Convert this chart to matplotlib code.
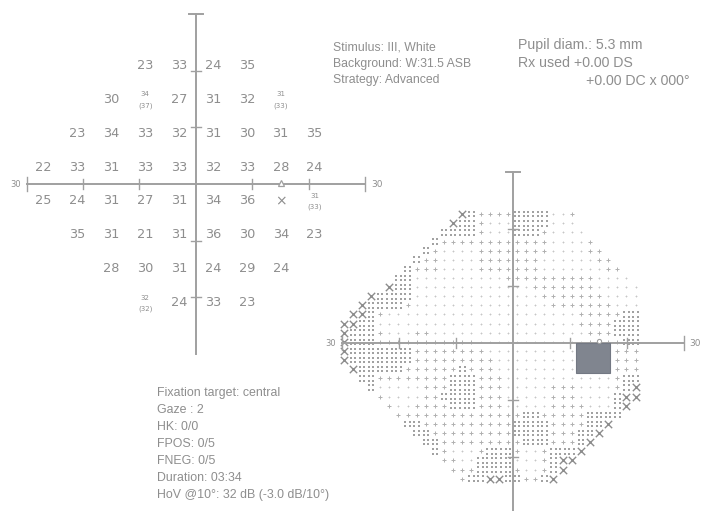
import numpy as np
import matplotlib
matplotlib.use("Agg")
import matplotlib.pyplot as plt
from matplotlib.path import Path
from matplotlib.patches import Rectangle

W, H = 703, 511
DPI = 100

# ---------------- data ----------------
col_x = [-27, -21, -15, -9, -3, 3, 9, 15, 21]
row_y = [21, 15, 9, 3, -3, -9, -15, -21]
row_p21 = [None, None, None, 23, 33, 24, 35, None, None]
row_p15 = [None, None, 30, 34, 27, 31, 32, 31, None]
row_p9 = [None, 23, 34, 33, 32, 31, 30, 31, 35]
row_p3 = [22, 33, 31, 33, 33, 32, 33, 28, 24]
row_m3 = [25, 24, 31, 27, 31, 34, 36, None, 31]
row_m9 = [None, 35, 31, 21, 31, 36, 30, 34, 23]
row_m15 = [None, None, 28, 30, 31, 24, 29, 24, None]
row_m21 = [None, None, None, 32, 24, 33, 23, None, None]
thresholds = [row_p21, row_p15, row_p9, row_p3, row_m3, row_m9, row_m15, row_m21]

# retested points: (x, y, second value)
retest_x = [-9, 15, 21, -9]
retest_y = [15, 15, -3, -21]
retest_v = [37, 33, 33, 32]

blind_spot = (15, -3)

info_left = ["Stimulus: III, White", "Background: W:31.5 ASB", "Strategy: Advanced"]
info_right = ["Pupil diam.: 5.3 mm", "Rx used +0.00 DS", "+0.00 DC x 000°"]
info_bottom = ["Fixation target: central", "Gaze : 2", "HK: 0/0", "FPOS: 0/5",
               "FNEG: 0/5", "Duration: 03:34", "HoV @10°: 32 dB (-3.0 dB/10°)"]

# greyscale field outline (degrees)
field_outline = [(-30, 3.5), (-8, 24), (9, 24), (23, 9), (23, -8), (7, -24),
                 (-9, -24), (-30, -3)]

TXT = "#8e8e8e"
AX = "#a0a0a0"

fig = plt.figure(figsize=(W / DPI, H / DPI), dpi=DPI)
fig.patch.set_facecolor("white")


def make_axes(cx, cy, s, lim=33):
    left = (cx - lim * s) / W
    bottom = 1 - (cy + lim * s) / H
    ax = fig.add_axes([left, bottom, 2 * lim * s / W, 2 * lim * s / H])
    ax.set_xlim(-lim, lim)
    ax.set_ylim(-lim, lim)
    ax.axis("off")
    return ax


def draw_cross(ax, bottom_len=30, lw=1.4):
    ax.plot([-30, 30], [0, 0], color=AX, lw=lw, zorder=2, clip_on=False)
    ax.plot([0, 0], [-bottom_len, 30], color=AX, lw=lw, zorder=2, clip_on=False)
    t = 0.8
    for v in (-20, -10, 10, 20):
        ax.plot([v, v], [-t, t], color=AX, lw=1.0, zorder=2)
        ax.plot([-t, t], [v, v], color=AX, lw=1.0, zorder=2, clip_on=False)
    c = 1.2
    ax.plot([-30, -30], [-c, c], color=AX, lw=1.0)
    ax.plot([30, 30], [-c, c], color=AX, lw=1.0)
    ax.plot([-c, c], [30, 30], color=AX, lw=1.4)
    ax.text(-31, 0, "30", ha="right", va="center", fontsize=6, color=TXT)
    ax.text(31, 0, "30", ha="left", va="center", fontsize=6.5, color=TXT)


# ---------------- left: numeric thresholds ----------------
axL = make_axes(196, 184, 5.65)
draw_cross(axL)
for yv, row in zip(row_y, thresholds):
    for xv, val in zip(col_x, row):
        if val is None:
            continue
        k = [i for i, (rx, ry) in enumerate(zip(retest_x, retest_y)) if rx == xv and ry == yv]
        if k:
            axL.text(xv, yv + 0.9, str(val), ha="center", va="center", fontsize=5, color=TXT)
            axL.text(xv, yv - 1.1, "(%d)" % retest_v[k[0]], ha="center", va="center",
                     fontsize=5, color=TXT)
        else:
            axL.text(xv, yv, str(val), ha="center", va="center", fontsize=9.3, color=TXT)
axL.text(blind_spot[0], blind_spot[1], "×", ha="center", va="center", fontsize=10, color=TXT)
axL.plot([blind_spot[0]], [0.2], marker="^", ms=4.5, mfc="white", mec=AX, mew=0.9, zorder=3)

# ---------------- right: greyscale ----------------
axR = make_axes(513, 343, 5.7)
draw_cross(axR, bottom_len=31)

px, py, pv = [], [], []
for yv, row in zip(row_y, thresholds):
    for xv, val in zip(col_x, row):
        if val is not None:
            px.append(xv); py.append(yv); pv.append(val)
px, py, pv = map(np.array, (px, py, pv))

path = Path(field_outline)
step = 1.6
gx, gy = np.meshgrid(np.arange(-30, 24, step) + 0.3, np.arange(-24, 24.5, step) + 0.2)
gx, gy = gx.ravel(), gy.ravel()
inside = path.contains_points(np.c_[gx, gy])
gx, gy = gx[inside], gy[inside]
d2 = (gx[:, None] - px[None]) ** 2 + (gy[:, None] - py[None]) ** 2
w = 1.0 / (d2 + 0.5) ** 2
gv = (w * pv[None]).sum(1) / w.sum(1)
# border values are extrapolated lower
verts = np.array(field_outline + [field_outline[0]], dtype=float)
dmin = np.full(gx.shape, 1e9)
for a, b in zip(verts[:-1], verts[1:]):
    ab = b - a
    t = np.clip(((gx - a[0]) * ab[0] + (gy - a[1]) * ab[1]) / (ab @ ab), 0, 1)
    dmin = np.minimum(dmin, np.hypot(gx - (a[0] + t * ab[0]), gy - (a[1] + t * ab[1])))
gv = gv - np.clip(2.4 - dmin, 0, 2.4) * 1.9

c1 = gv >= 31
c2 = (gv >= 27) & (gv < 31)
c3 = (gv >= 21) & (gv < 27)
c4 = gv < 21
axR.scatter(gx[c1], gy[c1], s=3, marker="+", c="#c6c6c6", linewidths=0.6, zorder=1)
axR.scatter(gx[c2], gy[c2], s=6, marker="+", c="#b0b0b0", linewidths=0.7, zorder=1)
for ox, oy in ((-0.4, -0.4), (0.4, 0.4), (-0.4, 0.4), (0.4, -0.4)):
    axR.scatter(gx[c3] + ox, gy[c3] + oy, s=1.6, marker="s", c="#a2a2a2", linewidths=0, zorder=1)
axR.scatter(gx[c4], gy[c4], s=28, marker="x", c="#8c8c8c", linewidths=1.0, zorder=1)

axR.add_patch(Rectangle((blind_spot[0] - 4, blind_spot[1] - 2.3), 6, 5.3,
                        facecolor="#80858f", edgecolor="#737883", lw=0.8, zorder=3))
axR.plot([blind_spot[0]], [0.3], marker="o", ms=3, mfc="white", mec=AX, mew=0.8, zorder=4)

# ---------------- text blocks ----------------
def ptext(x, y, s, size, ha="left"):
    fig.text(x / W, 1 - y / H, s, ha=ha, va="center", fontsize=size, color=TXT,
             family="Liberation Sans")

for i, s in enumerate(info_left):
    ptext(333, 47 + i * 16.5, s, 8.8)
ptext(518, 45, info_right[0], 10.2)
ptext(518, 63, info_right[1], 10.2)
ptext(690, 81, info_right[2], 10.2, ha="right")
for i, s in enumerate(info_bottom):
    ptext(157, 393 + i * 17, s, 8.9)

fig.savefig("out.png", dpi=DPI, facecolor="white")
